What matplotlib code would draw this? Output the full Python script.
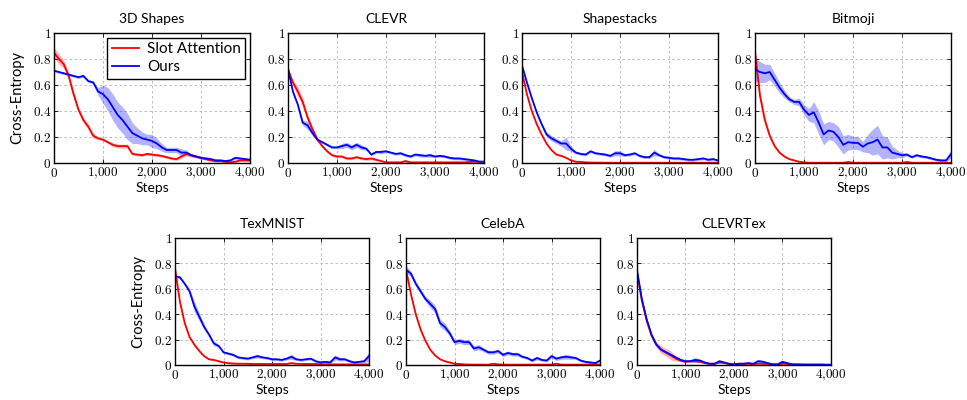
import matplotlib.pyplot as plt
import numpy as np
from matplotlib.ticker import FuncFormatter, MultipleLocator

plt.rcParams['font.family'] = ['Lato', 'DejaVu Sans']
plt.rcParams['mathtext.fontset'] = 'cm'

## training steps (common grid)
steps = np.arange(0, 4001, 100)

## 3D Shapes
shapes_sa = [0.85, 0.80, 0.76, 0.67, 0.53, 0.41, 0.33, 0.28, 0.21, 0.19, 0.18,
             0.16, 0.14, 0.13, 0.13, 0.13, 0.07, 0.065, 0.06, 0.07, 0.065,
             0.06, 0.055, 0.045, 0.035, 0.03, 0.05, 0.07, 0.06, 0.05, 0.04,
             0.03, 0.02, 0.015, 0.015, 0.01, 0.005, 0.01, 0.02, 0.02, 0.02]
shapes_sa_std = [0.04, 0.04, 0.03, 0.03, 0.03, 0.02, 0.02, 0.02, 0.02, 0.01, 0.01,
                 0.01, 0.015, 0.015, 0.015, 0.015, 0.01, 0.01, 0.01, 0.01, 0.01,
                 0.01, 0.01, 0.01, 0.01, 0.01, 0.015, 0.015, 0.015, 0.01, 0.01,
                 0.008, 0.008, 0.008, 0.008, 0.008, 0.008, 0.008, 0.008, 0.008, 0.008]
shapes_ours = [0.71, 0.70, 0.69, 0.68, 0.67, 0.66, 0.67, 0.63, 0.62, 0.55, 0.53,
               0.49, 0.43, 0.37, 0.33, 0.28, 0.23, 0.21, 0.19, 0.18, 0.17,
               0.15, 0.12, 0.10, 0.10, 0.10, 0.08, 0.08, 0.06, 0.05, 0.04,
               0.035, 0.03, 0.02, 0.02, 0.015, 0.02, 0.04, 0.035, 0.03, 0.025]
shapes_ours_std = [0.01, 0.01, 0.01, 0.01, 0.01, 0.01, 0.01, 0.01, 0.01, 0.03, 0.07,
                   0.09, 0.1, 0.1, 0.1, 0.1, 0.08, 0.06, 0.05, 0.04, 0.05,
                   0.04, 0.03, 0.02, 0.02, 0.02, 0.03, 0.02, 0.01, 0.01, 0.01,
                   0.01, 0.01, 0.01, 0.01, 0.01, 0.01, 0.01, 0.01, 0.01, 0.01]

## CLEVR
clevr_sa = [0.72, 0.62, 0.55, 0.47, 0.35, 0.26, 0.18, 0.13, 0.09, 0.06, 0.05,
            0.05, 0.035, 0.035, 0.045, 0.035, 0.03, 0.035, 0.025, 0.015, 0.005,
            0.005, 0.005, 0.005, 0.015, 0.005, 0.005, 0.005, 0.005, 0.005, 0.005,
            0.005, 0.005, 0.005, 0.005, 0.005, 0.005, 0.008, 0.01, 0.01, 0.01]
clevr_sa_std = [0.01, 0.02, 0.04, 0.03, 0.03, 0.02, 0.02, 0.01, 0.01, 0.01, 0.01,
                0.01, 0.01, 0.01, 0.01, 0.01, 0.01, 0.01, 0.01, 0.005, 0.005,
                0.005, 0.005, 0.005, 0.01, 0.005, 0.005, 0.005, 0.005, 0.005, 0.005,
                0.005, 0.005, 0.005, 0.005, 0.005, 0.005, 0.005, 0.005, 0.005, 0.005]
clevr_ours = [0.73, 0.55, 0.45, 0.31, 0.29, 0.23, 0.18, 0.16, 0.14, 0.12, 0.12,
              0.13, 0.14, 0.12, 0.14, 0.12, 0.11, 0.065, 0.085, 0.085, 0.09,
              0.08, 0.07, 0.075, 0.06, 0.05, 0.065, 0.06, 0.055, 0.06, 0.05,
              0.055, 0.05, 0.04, 0.035, 0.035, 0.03, 0.025, 0.02, 0.01, 0.01]
clevr_ours_std = [0.01, 0.01, 0.01, 0.02, 0.03, 0.02, 0.01, 0.01, 0.01, 0.01, 0.01,
                  0.02, 0.02, 0.02, 0.02, 0.02, 0.01, 0.01, 0.01, 0.015, 0.01,
                  0.01, 0.01, 0.01, 0.01, 0.01, 0.01, 0.015, 0.01, 0.015, 0.01,
                  0.01, 0.01, 0.01, 0.01, 0.01, 0.01, 0.01, 0.01, 0.01, 0.01]

## Shapestacks
stacks_sa = [0.70, 0.53, 0.40, 0.30, 0.22, 0.15, 0.10, 0.065, 0.055, 0.04, 0.02,
             0.01, 0.008, 0.005, 0.004, 0.003, 0.003, 0.002, 0.002, 0.002, 0.002,
             0.002, 0.002, 0.002, 0.002, 0.002, 0.002, 0.002, 0.002, 0.002, 0.002,
             0.002, 0.002, 0.002, 0.002, 0.002, 0.002, 0.002, 0.002, 0.002, 0.002]
stacks_sa_std = [0.005] * 41
stacks_ours = [0.75, 0.62, 0.50, 0.39, 0.30, 0.22, 0.19, 0.17, 0.15, 0.15, 0.11,
               0.08, 0.07, 0.065, 0.09, 0.075, 0.07, 0.065, 0.055, 0.075, 0.075,
               0.06, 0.065, 0.075, 0.055, 0.045, 0.045, 0.08, 0.06, 0.045, 0.04,
               0.035, 0.035, 0.03, 0.025, 0.025, 0.03, 0.035, 0.025, 0.03, 0.02]
stacks_ours_std = [0.01, 0.01, 0.01, 0.01, 0.01, 0.02, 0.02, 0.02, 0.02, 0.05, 0.02,
                   0.01, 0.01, 0.01, 0.01, 0.01, 0.01, 0.01, 0.01, 0.02, 0.02,
                   0.01, 0.01, 0.01, 0.01, 0.01, 0.01, 0.025, 0.01, 0.01, 0.01,
                   0.01, 0.01, 0.01, 0.01, 0.01, 0.01, 0.01, 0.01, 0.01, 0.01]

## Bitmoji
bitmoji_sa = [0.85, 0.52, 0.33, 0.21, 0.13, 0.08, 0.05, 0.03, 0.02, 0.01, 0.005,
              0.002, 0.002, 0.002, 0.002, 0.002, 0.002, 0.002, 0.002, 0.008, 0.002,
              0.002, 0.002, 0.002, 0.002, 0.002, 0.002, 0.002, 0.002, 0.002, 0.002,
              0.008, 0.002, 0.002, 0.002, 0.002, 0.002, 0.002, 0.002, 0.002, 0.002]
bitmoji_sa_std = [0.06, 0.04, 0.03, 0.02, 0.01, 0.01, 0.005, 0.005, 0.005, 0.005, 0.005,
                  0.003, 0.003, 0.003, 0.003, 0.003, 0.003, 0.003, 0.003, 0.005, 0.003,
                  0.003, 0.003, 0.003, 0.003, 0.003, 0.003, 0.003, 0.003, 0.003, 0.003,
                  0.005, 0.003, 0.003, 0.003, 0.003, 0.003, 0.003, 0.003, 0.003, 0.003]
bitmoji_ours = [0.72, 0.70, 0.69, 0.70, 0.64, 0.58, 0.53, 0.49, 0.47, 0.47, 0.41,
                0.37, 0.39, 0.31, 0.22, 0.25, 0.24, 0.20, 0.14, 0.16, 0.155,
                0.155, 0.125, 0.15, 0.16, 0.18, 0.12, 0.12, 0.08, 0.07, 0.06,
                0.065, 0.045, 0.06, 0.05, 0.045, 0.035, 0.025, 0.02, 0.02, 0.07]
bitmoji_ours_std = [0.09, 0.08, 0.07, 0.06, 0.05, 0.04, 0.03, 0.02, 0.02, 0.03, 0.04,
                    0.05, 0.08, 0.09, 0.08, 0.07, 0.07, 0.08, 0.07, 0.06, 0.05,
                    0.05, 0.04, 0.07, 0.10, 0.11, 0.09, 0.08, 0.05, 0.03, 0.02,
                    0.01, 0.01, 0.01, 0.01, 0.01, 0.01, 0.01, 0.01, 0.01, 0.03]

## TexMNIST
texmnist_sa = [0.76, 0.50, 0.33, 0.22, 0.16, 0.11, 0.07, 0.045, 0.04, 0.03, 0.02,
               0.015, 0.012, 0.01, 0.01, 0.01, 0.008, 0.008, 0.008, 0.008, 0.008,
               0.008, 0.008, 0.008, 0.015, 0.01, 0.008, 0.008, 0.008, 0.008, 0.005,
               0.005, 0.005, 0.005, 0.005, 0.005, 0.005, 0.005, 0.005, 0.005, 0.005]
texmnist_sa_std = [0.02, 0.01, 0.01, 0.01, 0.01, 0.01, 0.005, 0.005, 0.005, 0.005, 0.005,
                   0.005, 0.005, 0.005, 0.005, 0.005, 0.005, 0.005, 0.005, 0.005, 0.005,
                   0.005, 0.005, 0.005, 0.008, 0.005, 0.005, 0.005, 0.005, 0.005, 0.005,
                   0.005, 0.005, 0.005, 0.005, 0.005, 0.005, 0.005, 0.005, 0.005, 0.005]
texmnist_ours = [0.70, 0.69, 0.64, 0.58, 0.46, 0.38, 0.30, 0.24, 0.17, 0.15, 0.10,
                 0.09, 0.08, 0.06, 0.055, 0.05, 0.06, 0.07, 0.06, 0.055, 0.045,
                 0.045, 0.04, 0.05, 0.065, 0.045, 0.04, 0.045, 0.05, 0.03, 0.02,
                 0.025, 0.02, 0.06, 0.045, 0.045, 0.03, 0.02, 0.025, 0.03, 0.07]
texmnist_ours_std = [0.01, 0.01, 0.01, 0.02, 0.04, 0.03, 0.02, 0.01, 0.02, 0.01, 0.01,
                     0.01, 0.01, 0.01, 0.01, 0.01, 0.01, 0.015, 0.01, 0.01, 0.01,
                     0.01, 0.01, 0.01, 0.02, 0.01, 0.01, 0.01, 0.01, 0.01, 0.01,
                     0.01, 0.01, 0.02, 0.015, 0.01, 0.01, 0.01, 0.01, 0.01, 0.04]

## CelebA
celeba_sa = [0.75, 0.56, 0.40, 0.28, 0.19, 0.12, 0.075, 0.045, 0.03, 0.02, 0.01,
             0.008, 0.005, 0.004, 0.003, 0.003, 0.003, 0.003, 0.01, 0.005, 0.003,
             0.003, 0.003, 0.003, 0.003, 0.003, 0.003, 0.003, 0.003, 0.003, 0.003,
             0.01, 0.003, 0.003, 0.003, 0.003, 0.003, 0.003, 0.003, 0.003, 0.003]
celeba_sa_std = [0.02, 0.01, 0.01, 0.01, 0.005, 0.005, 0.005, 0.005, 0.005, 0.005, 0.005,
                 0.003, 0.003, 0.003, 0.003, 0.003, 0.003, 0.003, 0.01, 0.005, 0.003,
                 0.003, 0.003, 0.003, 0.003, 0.003, 0.003, 0.003, 0.003, 0.003, 0.003,
                 0.008, 0.003, 0.003, 0.003, 0.003, 0.003, 0.003, 0.003, 0.003, 0.003]
celeba_ours = [0.75, 0.72, 0.64, 0.58, 0.52, 0.48, 0.44, 0.33, 0.30, 0.25, 0.18,
               0.19, 0.18, 0.18, 0.13, 0.14, 0.12, 0.10, 0.10, 0.11, 0.08,
               0.095, 0.085, 0.085, 0.065, 0.055, 0.035, 0.055, 0.04, 0.035, 0.07,
               0.05, 0.06, 0.065, 0.06, 0.055, 0.035, 0.025, 0.02, 0.015, 0.035]
celeba_ours_std = [0.03, 0.02, 0.02, 0.02, 0.02, 0.03, 0.03, 0.03, 0.03, 0.02, 0.02,
                   0.02, 0.02, 0.02, 0.02, 0.02, 0.015, 0.015, 0.015, 0.015, 0.015,
                   0.015, 0.015, 0.015, 0.01, 0.01, 0.01, 0.015, 0.01, 0.01, 0.015,
                   0.015, 0.015, 0.02, 0.015, 0.01, 0.01, 0.01, 0.01, 0.01, 0.01]

## CLEVRTex
clevrtex_sa = [0.73, 0.51, 0.35, 0.23, 0.16, 0.12, 0.10, 0.075, 0.05, 0.035, 0.025,
               0.03, 0.03, 0.025, 0.015, 0.01, 0.01, 0.02, 0.015, 0.008, 0.005,
               0.01, 0.01, 0.01, 0.008, 0.01, 0.01, 0.008, 0.005, 0.005, 0.01,
               0.008, 0.005, 0.004, 0.003, 0.003, 0.003, 0.003, 0.003, 0.002, 0.002]
clevrtex_sa_std = [0.01, 0.01, 0.01, 0.01, 0.02, 0.03, 0.03, 0.035, 0.02, 0.01, 0.005,
                   0.005, 0.005, 0.005, 0.005, 0.005, 0.005, 0.005, 0.005, 0.005, 0.005,
                   0.005, 0.008, 0.005, 0.005, 0.005, 0.005, 0.005, 0.005, 0.005, 0.005,
                   0.005, 0.005, 0.005, 0.005, 0.005, 0.005, 0.005, 0.005, 0.005, 0.005]
clevrtex_ours = [0.75, 0.52, 0.36, 0.24, 0.16, 0.12, 0.10, 0.08, 0.06, 0.04, 0.03,
                 0.03, 0.04, 0.035, 0.02, 0.01, 0.01, 0.03, 0.02, 0.01, 0.005,
                 0.01, 0.01, 0.015, 0.01, 0.03, 0.025, 0.015, 0.005, 0.005, 0.025,
                 0.015, 0.005, 0.005, 0.004, 0.003, 0.003, 0.003, 0.003, 0.002, 0.002]
clevrtex_ours_std = [0.01, 0.01, 0.01, 0.01, 0.01, 0.01, 0.01, 0.01, 0.01, 0.01, 0.01,
                     0.01, 0.02, 0.01, 0.01, 0.005, 0.005, 0.01, 0.005, 0.005, 0.005,
                     0.005, 0.005, 0.005, 0.005, 0.015, 0.01, 0.005, 0.005, 0.005, 0.01,
                     0.005, 0.005, 0.005, 0.005, 0.005, 0.005, 0.005, 0.005, 0.005, 0.005]

titles = ['3D Shapes', 'CLEVR', 'Shapestacks', 'Bitmoji', 'TexMNIST', 'CelebA', 'CLEVRTex']
sa_list = [shapes_sa, clevr_sa, stacks_sa, bitmoji_sa, texmnist_sa, celeba_sa, clevrtex_sa]
sa_std_list = [shapes_sa_std, clevr_sa_std, stacks_sa_std, bitmoji_sa_std,
               texmnist_sa_std, celeba_sa_std, clevrtex_sa_std]
ours_list = [shapes_ours, clevr_ours, stacks_ours, bitmoji_ours, texmnist_ours, celeba_ours, clevrtex_ours]
ours_std_list = [shapes_ours_std, clevr_ours_std, stacks_ours_std, bitmoji_ours_std,
                 texmnist_ours_std, celeba_ours_std, clevrtex_ours_std]

## axes positions in figure fractions [left, bottom, width, height]
top_w, top_h, top_b = 0.2027, 0.325, 0.5925
bot_w, bot_h, bot_b = 0.2006, 0.3175, 0.0875
positions = [[0.0558, top_b, top_w, top_h], [0.2978, top_b, top_w, top_h],
             [0.5398, top_b, top_w, top_h], [0.7808, top_b, top_w, top_h],
             [0.1810, bot_b, bot_w, bot_h], [0.4199, bot_b, bot_w, bot_h],
             [0.6587, bot_b, bot_w, bot_h]]


def fmt_x(v, pos):
    return '$' + format(int(round(v)), ',').replace(',', '{,}') + '$'


def fmt_y(v, pos):
    if abs(v - round(v)) < 1e-6:
        return '$%d$' % int(round(v))
    return '$%.1f$' % v


fig = plt.figure(figsize=(9.67, 4.0), dpi=100)

for i in range(7):
    ax = fig.add_axes(positions[i])
    sa = np.array(sa_list[i])
    sa_s = np.array(sa_std_list[i])
    ours = np.array(ours_list[i])
    ours_s = np.array(ours_std_list[i])

    ax.fill_between(steps, np.clip(sa - sa_s, 0, None), sa + sa_s, color='red', alpha=0.3, lw=0)
    ax.fill_between(steps, np.clip(ours - ours_s, 0, None), ours + ours_s, color='blue', alpha=0.3, lw=0)
    ax.plot(steps, sa, color='red', lw=1.3, label='Slot Attention')
    ax.plot(steps, ours, color='blue', lw=1.3, label='Ours')

    ax.set_xlim(0, 4000)
    ax.set_ylim(0, 1)
    ax.xaxis.set_major_locator(MultipleLocator(1000))
    ax.yaxis.set_major_locator(MultipleLocator(0.2))
    ax.xaxis.set_major_formatter(FuncFormatter(fmt_x))
    ax.yaxis.set_major_formatter(FuncFormatter(fmt_y))
    ax.tick_params(direction='in', length=3, width=0.6, top=True, right=True,
                   labelsize=9.5, pad=2)
    ax.grid(True, color='#b4b4b4', linestyle=(0, (3, 3)), lw=0.6)
    ax.set_axisbelow(True)
    for sp in ax.spines.values():
        sp.set_linewidth(1.0)
        sp.set_color('black')

    ax.set_title(titles[i], fontsize=10, pad=7)
    ax.set_xlabel('Steps', fontsize=10, labelpad=1)
    if i == 0 or i == 4:
        ax.set_ylabel('Cross-Entropy', fontsize=10.5, labelpad=6)
    if i == 0:
        ax.legend(loc='upper right', fontsize=11, frameon=True, fancybox=False,
                  edgecolor='black', framealpha=1, borderaxespad=0.3,
                  handlelength=1.8, borderpad=0.3, labelspacing=0.25, handletextpad=0.5)

plt.savefig('out.png', dpi=100)
